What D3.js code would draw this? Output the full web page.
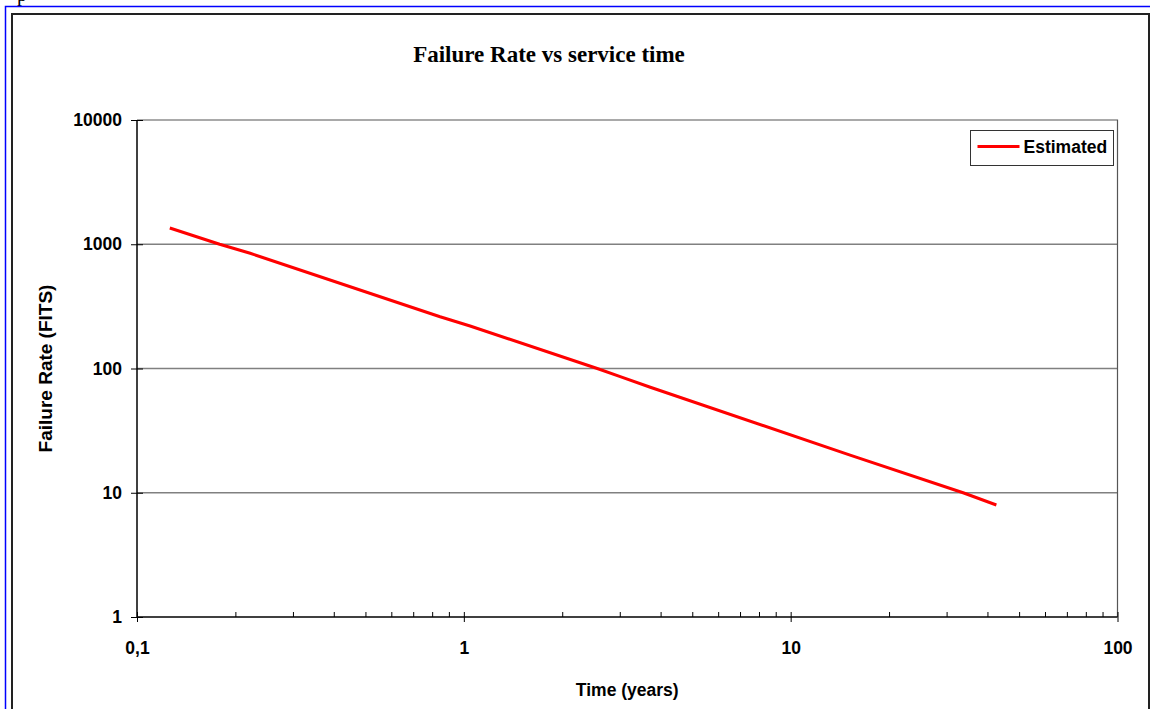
<!DOCTYPE html>
<html>
<head>
<meta charset="utf-8">
<script src="https://cdn.jsdelivr.net/npm/d3@7/dist/d3.min.js"></script>
<style>
  html, body { margin: 0; padding: 0; background: #fff; }
  svg { display: block; }
</style>
</head>
<body>
<script>
// Estimated failure rate (FITS) over service time (years)
const serviceYears = [0.126, 0.179, 0.222, 0.846, 1.045, 2.56, 3.01, 3.72, 15.2, 33.7, 42.6];
const failureFits  = [1352, 1000, 846, 261, 220, 100, 85.9, 70.6, 20.1, 10, 7.97];

const xTickValues = [0.1, 1, 10, 100];
const xTickLabels = ["0,1", "1", "10", "100"];
const yTickValues = [1, 10, 100, 1000, 10000];
const yTickLabels = ["1", "10", "100", "1000", "10000"];

const seriesName = "Estimated";
const chartTitle = "Failure Rate vs service time";
const xTitle = "Time (years)";
const yTitle = "Failure Rate (FITS)";

const W = 1150, H = 709;
const plot = { left: 137, right: 1117.5, top: 120, bottom: 617 };
const sans = "'Liberation Sans', Arial, sans-serif";
const serif = "'Liberation Serif', 'Times New Roman', serif";

const svg = d3.select("body").append("svg")
  .attr("width", W).attr("height", H);

// page frame
svg.append("text").attr("x", 17).attr("y", 0.5)
  .attr("font-family", serif).attr("font-size", 20).text("p");
svg.append("path").attr("d", `M5.5,709 V6.5 H1150`)
  .attr("fill", "none").attr("stroke", "#0000ff").attr("stroke-width", 1.5);
svg.append("rect").attr("x", 12).attr("y", 14).attr("width", 1137).attr("height", 720)
  .attr("fill", "#fff").attr("stroke", "#222").attr("stroke-width", 2);

const x = d3.scaleLog().domain([0.1, 100]).range([plot.left, plot.right]);
const y = d3.scaleLog().domain([1, 10000]).range([plot.bottom, plot.top]);

// horizontal gridlines
svg.append("g").selectAll("line")
  .data(yTickValues.slice(1, -1))
  .join("line")
  .attr("x1", plot.left).attr("x2", plot.right)
  .attr("y1", d => y(d)).attr("y2", d => y(d))
  .attr("stroke", "#808080").attr("stroke-width", 1.5);

// plot-area border (top and right)
svg.append("path")
  .attr("d", `M${plot.left},${plot.top} H${plot.right} V${plot.bottom}`)
  .attr("fill", "none").attr("stroke", "#555").attr("stroke-width", 1.2);

// x axis: minor and major ticks inside, major ticks outside with labels
const xInner = svg.append("g").attr("transform", `translate(0,${plot.bottom})`)
  .call(d3.axisTop(x).tickValues(x.ticks()).tickSize(5).tickFormat(""));
const xOuter = svg.append("g").attr("transform", `translate(0,${plot.bottom})`)
  .call(d3.axisBottom(x).tickValues(xTickValues).tickSize(5).tickPadding(20)
    .tickFormat((d, i) => xTickLabels[i]));

// y axis: major ticks on both sides
const yInner = svg.append("g").attr("transform", `translate(${plot.left},0)`)
  .call(d3.axisRight(y).tickValues(yTickValues).tickSize(6).tickFormat(""));
const yOuter = svg.append("g").attr("transform", `translate(${plot.left},0)`)
  .call(d3.axisLeft(y).tickValues(yTickValues).tickSize(6).tickPadding(9)
    .tickFormat((d, i) => yTickLabels[i]));

[xInner, xOuter, yInner, yOuter].forEach(g => {
  g.select(".domain").attr("stroke", "#000").attr("stroke-width", 1.5);
  g.selectAll(".tick line").attr("stroke", "#000").attr("stroke-width", 1);
  g.selectAll(".tick text")
    .attr("font-family", sans).attr("font-size", 17.5)
    .attr("font-weight", "bold").attr("fill", "#000");
});
xOuter.selectAll(".tick line").attr("y1", 0);
xInner.select(".domain").remove();
yInner.select(".domain").remove();
yOuter.select(".domain").attr("d", `M0,${plot.top}V${plot.bottom}`);
xOuter.select(".domain").attr("d", `M${plot.left},0H${plot.right}`);

// data line
const line = d3.line()
  .x((d, i) => x(serviceYears[i]))
  .y(d => y(d));
svg.append("path")
  .datum(failureFits)
  .attr("d", line)
  .attr("fill", "none")
  .attr("stroke", "#ff0000")
  .attr("stroke-width", 3)
  .attr("stroke-linejoin", "round");

// titles
svg.append("text")
  .attr("x", 549).attr("y", 62)
  .attr("text-anchor", "middle")
  .attr("font-family", serif).attr("font-weight", "bold").attr("font-size", 23)
  .text(chartTitle);
svg.append("text")
  .attr("x", (plot.left + plot.right) / 2).attr("y", 696)
  .attr("text-anchor", "middle")
  .attr("font-family", sans).attr("font-weight", "bold").attr("font-size", 17.5)
  .text(xTitle);
svg.append("text")
  .attr("transform", `translate(52,${(plot.top + plot.bottom) / 2}) rotate(-90)`)
  .attr("text-anchor", "middle")
  .attr("font-family", sans).attr("font-weight", "bold").attr("font-size", 19)
  .text(yTitle);

// legend
const legend = svg.append("g").attr("transform", "translate(970.5,130.5)");
legend.append("rect").attr("width", 143).attr("height", 35)
  .attr("fill", "#fff").attr("stroke", "#333").attr("stroke-width", 1);
legend.append("line").attr("x1", 7).attr("x2", 49).attr("y1", 16).attr("y2", 16)
  .attr("stroke", "#ff0000").attr("stroke-width", 3);
legend.append("text").attr("x", 53).attr("y", 22.5)
  .attr("font-family", sans).attr("font-weight", "bold").attr("font-size", 17.5)
  .text(seriesName);
</script>
</body>
</html>
